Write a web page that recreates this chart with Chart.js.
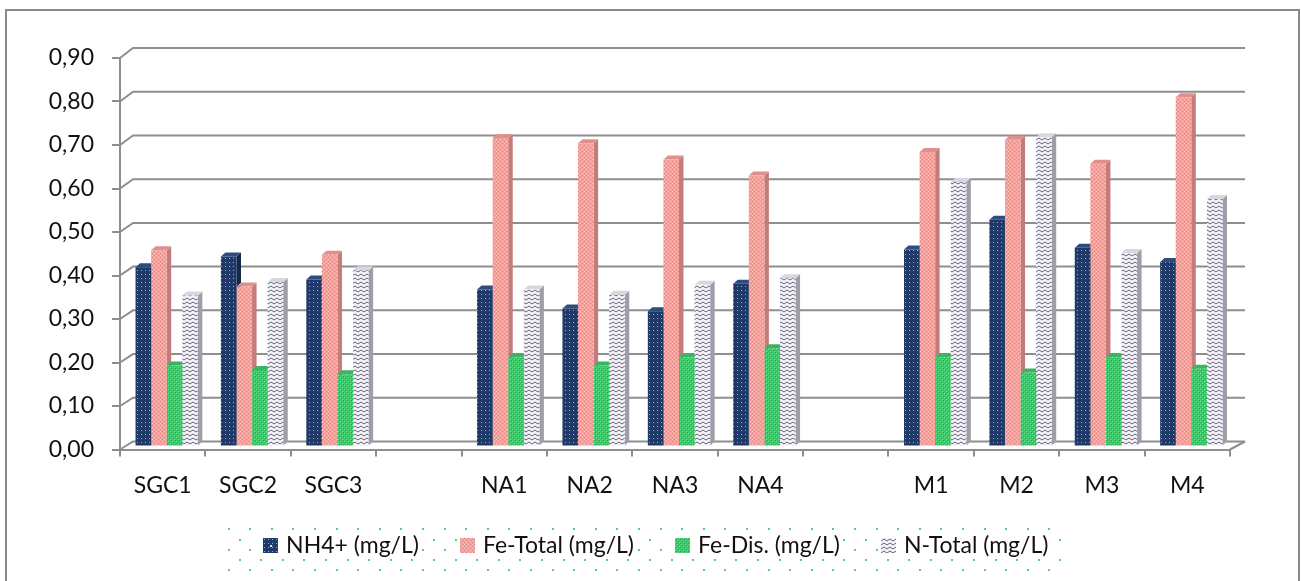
<!DOCTYPE html>
<html>
<head>
<meta charset="utf-8">
<script src="https://cdn.jsdelivr.net/npm/chart.js@4/dist/chart.umd.min.js"></script>
<style>
  html, body { margin: 0; padding: 0; background: #fff; }
  #wrap { position: relative; width: 1301px; height: 581px; }
</style>
</head>
<body>
<div id="wrap"><canvas id="c" width="1301" height="581"></canvas></div>
<script>
// Sampling sites (empty slots separate the three site groups)
const categories = ['SGC1', 'SGC2', 'SGC3', '', 'NA1', 'NA2', 'NA3', 'NA4', '', 'M1', 'M2', 'M3', 'M4'];

// Concentrations in mg/L
const nh4     = [0.412, 0.437, 0.384, null, 0.361, 0.317, 0.311, 0.374, null, 0.453, 0.521, 0.457, 0.424];
const feTotal = [0.451, 0.368, 0.441, null, 0.709, 0.697, 0.660, 0.623, null, 0.677, 0.705, 0.650, 0.803];
const feDis   = [0.186, 0.176, 0.166, null, 0.205, 0.186, 0.205, 0.226, null, 0.205, 0.170, 0.205, 0.179];
const nTotal  = [0.347, 0.378, 0.405, null, 0.361, 0.349, 0.372, 0.387, null, 0.608, 0.711, 0.445, 0.569];

const seriesLabels = ['NH4+ (mg/L)', 'Fe-Total (mg/L)', 'Fe-Dis. (mg/L)', 'N-Total (mg/L)'];

// Value axis
const yMin = 0, yMax = 0.9, yStep = 0.1;

const FONT = 'Lato, "Open Sans", "DejaVu Sans", sans-serif';
const GRID = '#8e8e8e';

// --- fill textures -------------------------------------------------------
function tile(w, h, paint) {
  const c = document.createElement('canvas');
  c.width = w; c.height = h;
  paint(c.getContext('2d'), w, h);
  return c;
}
const tiles = [
  tile(4, 4, (g) => {               // navy with light dots
    g.fillStyle = '#1f3a68'; g.fillRect(0, 0, 4, 4);
    g.fillStyle = 'rgba(175,195,230,0.85)'; g.fillRect(1, 1, 1, 1);
  }),
  tile(4, 4, (g) => {               // salmon with fine darker grain
    g.fillStyle = '#f3a29e'; g.fillRect(0, 0, 4, 4);
    g.fillStyle = '#e38686'; g.fillRect(0, 0, 1, 1); g.fillRect(2, 2, 1, 1);
    g.fillStyle = '#f8c2bf'; g.fillRect(2, 0, 1, 1); g.fillRect(0, 2, 1, 1);
  }),
  tile(4, 4, (g) => {               // green mesh
    g.fillStyle = '#3ec66b'; g.fillRect(0, 0, 4, 4);
    g.fillStyle = '#7fe19f'; g.fillRect(0, 0, 1, 1); g.fillRect(2, 2, 1, 1);
    g.fillStyle = '#2ea85a'; g.fillRect(1, 1, 1, 1); g.fillRect(3, 3, 1, 1);
  }),
  tile(6, 4, (g) => {               // pale lavender with grey zigzag
    g.fillStyle = '#f6f4f9'; g.fillRect(0, 0, 6, 4);
    g.strokeStyle = 'rgba(92,88,112,0.95)'; g.lineWidth = 1;
    g.beginPath(); g.moveTo(0, 3); g.lineTo(3, 1); g.lineTo(6, 3); g.stroke();
  })
];
const probe = document.createElement('canvas').getContext('2d');
const fills = tiles.map(t => probe.createPattern(t, 'repeat'));
const sideColors = ['#14284a', '#c47c7a', '#2d9a52', '#a09dab'];
const topColors  = ['#2d4c80', '#e08f8c', '#38b462', '#d8d6df'];

// legend swatches
const swatches = tiles.map((t, i) => tile(15, 15, (g) => {
  g.fillStyle = g.createPattern(t, 'repeat'); g.fillRect(0, 0, 15, 15);
  if (i === 0) { g.fillStyle = '#dfe6f2'; g.fillRect(7, 7, 2, 2); }
}));

// --- 3D look -------------------------------------------------------------
const WALL_DX = 13, WALL_DY0 = -8, WALL_DY1 = -10;   // back wall offset at 0 and at max
const BAR_DX = 4, BAR_DY = -3;                       // bars stand mid-depth
const DEPTH_X = 4.5, DEPTH_Y = 4;                    // bar depth
const LEGEND_LIFT = 14;                              // legend row sits close under the axis labels

const frame3d = {
  id: 'frame3d',
  afterUpdate(chart) {
    const lg = chart.legend;
    if (!lg) return;
    lg.top -= LEGEND_LIFT;
    lg.bottom -= LEGEND_LIFT;
    (lg.legendHitBoxes || []).forEach(b => { b.top -= LEGEND_LIFT; });
  },
  beforeDraw(chart) {
    const ctx = chart.ctx;
    ctx.save();
    ctx.strokeStyle = '#8a8a8a';
    ctx.lineWidth = 2;
    ctx.strokeRect(6, 10, 1293, 640);

    // dotted legend backdrop
    const hb = chart.legend && chart.legend.legendHitBoxes;
    if (hb && hb.length) {
      const top = hb[0].top;
      const left = hb[0].left - 38;
      const last = hb[hb.length - 1];
      const right = last.left + last.width + 22;
      ctx.fillStyle = '#4fd083';
      for (let r = 0; r < 5; r++) {
        const yy = top - 4.7 + r * 10.2;
        for (let x = left + (r % 2 ? 11 : 0); x <= right; x += 21.6) {
          if ((r === 1 || r === 2) && hb.some(b => x > b.left - 7 && x < b.left + b.width + 3)) continue;
          ctx.fillRect(Math.round(x) - 1, Math.round(yy) - 1, 2, 2);
        }
      }
    }
    ctx.restore();
  },
  beforeDatasetsDraw(chart) {
    const { ctx, chartArea: a } = chart;
    const y = chart.scales.y;
    ctx.save();
    ctx.strokeStyle = GRID;
    ctx.lineWidth = 2;
    y.ticks.forEach(t => {
      const yf = y.getPixelForValue(t.value);
      const yb = yf + WALL_DY0 + (WALL_DY1 - WALL_DY0) * (t.value / y.max);
      ctx.beginPath();
      ctx.moveTo(a.left, yf);
      ctx.lineTo(a.left + WALL_DX, yb);
      ctx.lineTo(a.right + 15, yb);
      ctx.stroke();
    });
    // right edge of the floor
    ctx.beginPath();
    ctx.moveTo(a.right, a.bottom);
    ctx.lineTo(a.right + 15, y.getPixelForValue(0) + WALL_DY0);
    ctx.stroke();
    ctx.restore();

    // bars are drawn shifted back; sides and tops go underneath the fronts
    ctx.save();
    ctx.translate(BAR_DX, BAR_DY);
    chart.data.datasets.forEach((ds, i) => {
      const meta = chart.getDatasetMeta(i);
      meta.data.forEach((bar, j) => {
        if (ds.data[j] == null) return;
        const p = bar.getProps(['x', 'y', 'base', 'width'], true);
        const l = p.x - p.width / 2, r = p.x + p.width / 2;
        ctx.fillStyle = sideColors[i];
        ctx.beginPath();
        ctx.moveTo(r, p.y); ctx.lineTo(r + DEPTH_X, p.y - DEPTH_Y);
        ctx.lineTo(r + DEPTH_X, p.base - DEPTH_Y); ctx.lineTo(r, p.base);
        ctx.closePath(); ctx.fill();
        ctx.fillStyle = topColors[i];
        ctx.beginPath();
        ctx.moveTo(l, p.y); ctx.lineTo(l + DEPTH_X, p.y - DEPTH_Y);
        ctx.lineTo(r + DEPTH_X, p.y - DEPTH_Y); ctx.lineTo(r, p.y);
        ctx.closePath(); ctx.fill();
      });
    });
  },
  afterDatasetsDraw(chart) {
    chart.ctx.restore();
  }
};

const seriesData = [nh4, feTotal, feDis, nTotal];

function build() {
  new Chart(document.getElementById('c'), {
    type: 'bar',
    data: {
      labels: categories,
      datasets: seriesData.map((d, i) => ({
        label: seriesLabels[i],
        data: d,
        backgroundColor: fills[i],
        borderWidth: 0,
        clip: false,
        categoryPercentage: 0.73,
        barPercentage: 1.0
      }))
    },
    options: {
      responsive: false,
      animation: false,
      devicePixelRatio: 1,
      layout: { padding: { left: 14, right: 0, top: 58, bottom: 0 } },
      plugins: {
        tooltip: { enabled: false },
        legend: {
          position: 'bottom',
          labels: {
            usePointStyle: true,
            pointStyleWidth: 8,
            boxHeight: 15,
            padding: 44.5,
            color: '#111',
            font: { family: FONT, size: 23 },
            generateLabels: (chart) => chart.data.datasets.map((ds, i) => ({
              text: ds.label,
              pointStyle: swatches[i],
              fillStyle: 'transparent',
              strokeStyle: 'transparent',
              lineWidth: 0,
              fontColor: '#111',
              hidden: false,
              datasetIndex: i
            }))
          }
        }
      },
      scales: {
        x: {
          type: 'category',
          offset: true,
          grid: { offset: true, drawOnChartArea: false, drawTicks: true, tickLength: 7, color: GRID, lineWidth: 2 },
          border: { display: true, color: GRID, width: 2 },
          ticks: { color: '#111', font: { family: FONT, size: 23 }, padding: 15, maxRotation: 0, autoSkip: false },
          afterFit: (s) => { s.height = 54; }
        },
        y: {
          min: yMin, max: yMax,
          grid: { drawOnChartArea: false, drawTicks: true, tickLength: 8, color: GRID, lineWidth: 2 },
          border: { display: true, color: GRID, width: 2 },
          ticks: {
            stepSize: yStep,
            padding: 18,
            color: '#111',
            font: { family: FONT, size: 23 },
            callback: (v) => Number(v).toFixed(2).replace('.', ',')
          },
          afterFit: (s) => { s.width = 106; }
        },
        yRight: {
          position: 'right',
          display: true,
          grid: { display: false },
          border: { display: false },
          ticks: { display: false },
          afterFit: (s) => { s.width = 71; }
        }
      }
    },
    plugins: [frame3d]
  });
}

if (document.fonts && document.fonts.load) {
  document.fonts.load('23px Lato').then(build, build);
} else {
  build();
}
</script>
</body>
</html>
